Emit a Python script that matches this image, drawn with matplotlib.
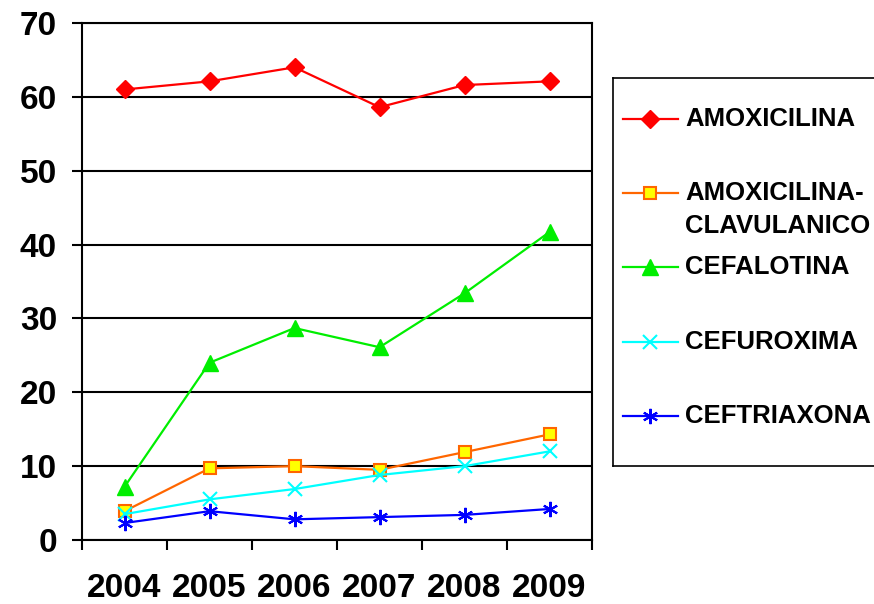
import matplotlib
matplotlib.use("Agg")
import matplotlib.pyplot as plt
from matplotlib.lines import Line2D
import numpy as np

plt.rcParams['font.family'] = ['Liberation Sans', 'DejaVu Sans']

years = ["2004", "2005", "2006", "2007", "2008", "2009"]
amoxicilina = [61.0, 62.1, 64.0, 58.6, 61.6, 62.1]
amox_clav = [3.9, 9.7, 10.0, 9.5, 11.9, 14.3]
cefalotina = [7.2, 24.0, 28.7, 26.1, 33.4, 41.7]
cefuroxima = [3.5, 5.5, 6.9, 8.8, 10.0, 12.0]
ceftriaxona = [2.3, 3.9, 2.8, 3.1, 3.4, 4.2]

labels = ["AMOXICILINA", "AMOXICILINA-\nCLAVULANICO", "CEFALOTINA",
          "CEFUROXIMA", "CEFTRIAXONA"]

# style per series: color, marker, marker face, size
styles = [
    dict(color="#FF0000", marker="D", mfc="#FF0000", mec="#FF0000", ms=9),
    dict(color="#FF6600", marker="s", mfc="#FFFF00", mec="#FF6600", ms=8, mew=1.5),
    dict(color="#00EE00", marker="^", mfc="#00EE00", mec="#00EE00", ms=11),
    dict(color="#00FFFF", marker="x", mfc="#00FFFF", mec="#00FFFF", ms=10, mew=1.5),
    dict(color="#0000FF", marker=(6, 2, 0), mfc="#0000FF", mec="#0000FF", ms=11, mew=1.5),
]
series = [amoxicilina, amox_clav, cefalotina, cefuroxima, ceftriaxona]

fig = plt.figure(figsize=(8.74, 6.04), dpi=100)
ax = fig.add_axes([82/874, 1 - 540/604, (592 - 82)/874, (540 - 23)/604])

x = np.arange(len(years))
for vals, st in zip(series, styles):
    ax.plot(x, vals, lw=1.6, zorder=3, **st)

ax.set_xlim(-0.5, len(years) - 0.5)
ax.set_ylim(0, 70)
ax.set_yticks(range(0, 71, 10))
ax.yaxis.grid(True, color="black", lw=1.5)
ax.set_axisbelow(True)

ax.set_xticks(x)
ax.set_xticklabels(years)
ax.set_xticks(np.arange(-0.5, len(years), 1), minor=True)
ax.tick_params(axis="x", which="major", length=0, pad=24)
ax.tick_params(axis="x", which="minor", length=7, width=1.5, direction="out")
ax.tick_params(axis="y", length=7, width=1.5, pad=11)
for lab in ax.get_xticklabels() + ax.get_yticklabels():
    lab.set_fontsize(24)
    lab.set_fontweight("bold")
for sp in ax.spines.values():
    sp.set_linewidth(1.5)
    sp.set_color("black")

# legend drawn as its own box, first text line centred on its marker
lax = fig.add_axes([613/874, 1 - 466/604, 270/874, (466 - 78)/604])
lax.set_xlim(613, 883)
lax.set_ylim(466, 78)
lax.set_xticks([])
lax.set_yticks([])
for sp in lax.spines.values():
    sp.set_linewidth(1.2)
    sp.set_color("black")
entry_y = [119, 193, 267, 342, 416]
for yy, lab, st in zip(entry_y, labels, styles):
    lax.add_line(Line2D([623, 650.5, 678], [yy, yy, yy], lw=1.6,
                        markevery=[1], **st))
    for i, line in enumerate(lab.split("\n")):
        lax.text(685, yy + 33 * i, line, fontsize=18.5, fontweight="bold",
                 va="center", ha="left")

fig.savefig("out.png", dpi=100)
